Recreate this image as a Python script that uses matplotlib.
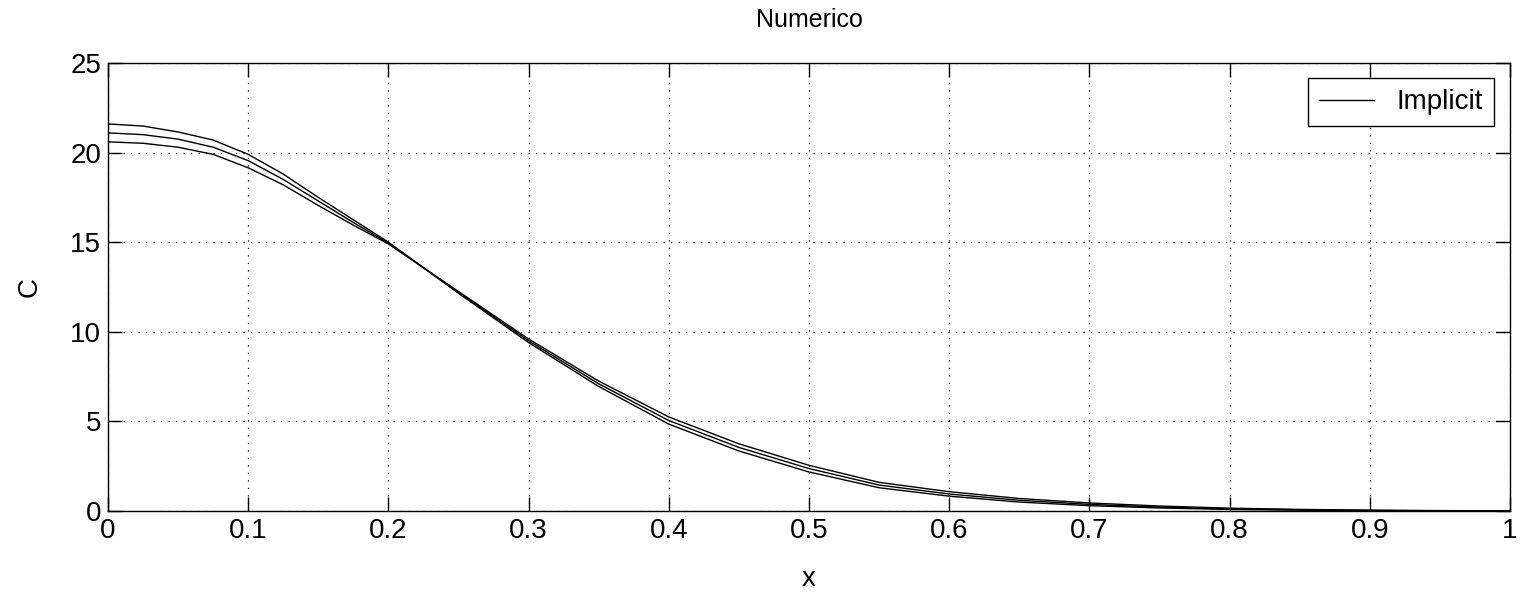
import numpy as np
import matplotlib.pyplot as plt

plt.rcParams['font.family'] = ['Liberation Sans', 'DejaVu Sans']

# valores
x = [0, 0.025, 0.05, 0.075, 0.1, 0.125, 0.15, 0.175, 0.2, 0.25, 0.3, 0.35,
     0.4, 0.45, 0.5, 0.55, 0.6, 0.65, 0.7, 0.75, 0.8, 0.85, 0.9, 0.95, 1.0]
c1 = [21.6, 21.48, 21.15, 20.7, 19.9, 18.8, 17.5, 16.25, 15.0, 12.15, 9.4, 6.95,
      4.85, 3.35, 2.18, 1.3, 0.83, 0.5, 0.3, 0.17, 0.09, 0.05, 0.02, 0.01, 0.005]
c2 = [21.1, 21.0, 20.75, 20.3, 19.55, 18.5, 17.3, 16.1, 14.95, 12.2, 9.5, 7.1,
      5.05, 3.55, 2.37, 1.45, 0.95, 0.6, 0.37, 0.22, 0.12, 0.07, 0.03, 0.015, 0.008]
c3 = [20.6, 20.52, 20.3, 19.9, 19.15, 18.2, 17.05, 15.95, 14.9, 12.25, 9.6, 7.25,
      5.25, 3.75, 2.55, 1.6, 1.08, 0.7, 0.45, 0.28, 0.16, 0.09, 0.05, 0.025, 0.012]

fig = plt.figure(figsize=(15.28, 5.97), dpi=100)
ax = fig.add_axes([0.0707, 0.144, 0.9175, 0.7505])

ax.plot(x, c1, color='black', lw=1, label='Implicit')
ax.plot(x, c2, color='black', lw=1)
ax.plot(x, c3, color='black', lw=1)

ax.set_xlim(0, 1)
ax.set_ylim(0, 25)
ax.set_xticks(np.arange(0, 1.01, 0.1))
ax.set_xticklabels(['0', '0.1', '0.2', '0.3', '0.4', '0.5', '0.6', '0.7', '0.8', '0.9', '1'])
ax.set_yticks([0, 5, 10, 15, 20, 25])
ax.grid(True, color='black', linestyle=(0, (1, 5)), lw=0.9)
ax.tick_params(direction='in', length=10, width=1, labelsize=20, top=True, right=True, pad=5)
for s in ax.spines.values():
    s.set_linewidth(1)

ax.set_xlabel('x', fontsize=20, labelpad=16)
ax.set_ylabel('C', fontsize=20, labelpad=20)
ax.set_title('Numerico', fontsize=18, pad=26)

leg = ax.legend(loc='upper right', fontsize=20, fancybox=False, framealpha=1,
                edgecolor='black', borderpad=0.4, handlelength=2.0,
                borderaxespad=0, bbox_to_anchor=(0.9886, 0.966))
leg.get_frame().set_linewidth(1)

fig.savefig('out.png', dpi=100)
